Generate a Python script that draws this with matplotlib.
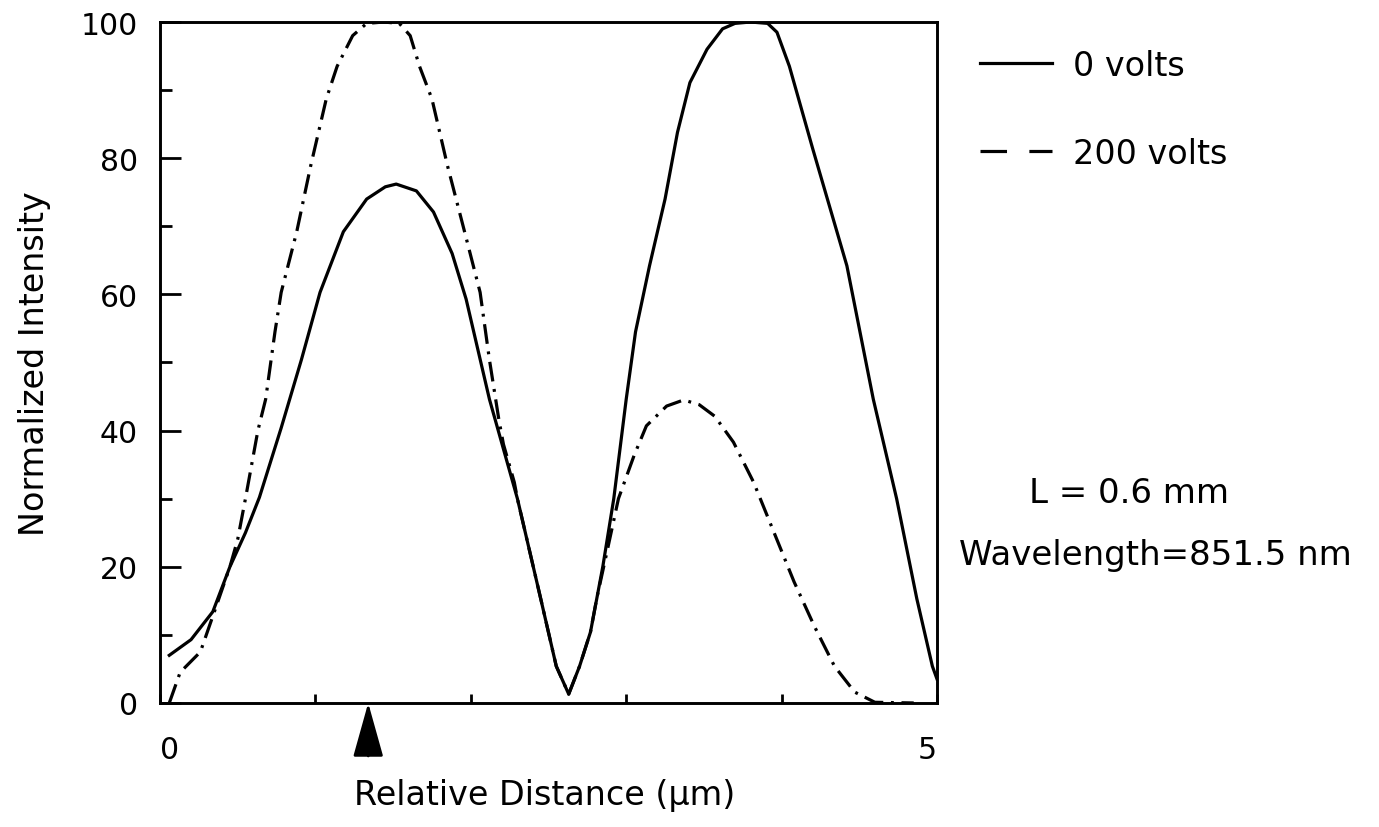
import matplotlib
matplotlib.use("Agg")
import matplotlib.pyplot as plt
from matplotlib.lines import Line2D
from matplotlib.ticker import MultipleLocator

# ---- data ----
x_0v = [0.06, 0.20, 0.34, 0.45, 0.55, 0.64, 0.78, 0.91, 1.03, 1.18, 1.33, 1.45,
        1.52, 1.65, 1.76, 1.88, 1.97, 2.12, 2.30, 2.45, 2.55, 2.63, 2.70, 2.77,
        2.85, 2.92, 3.00, 3.06, 3.15, 3.25, 3.33, 3.41, 3.52, 3.62, 3.70, 3.80,
        3.91, 3.97, 4.05, 4.20, 4.42, 4.59, 4.74, 4.87, 4.97, 5.00]
y_0v = [7.0, 9.3, 13.4, 20.0, 25.0, 30.2, 40.4, 50.4, 60.3, 69.2, 74.0, 75.8,
        76.2, 75.2, 72.1, 66.0, 59.3, 44.6, 30.0, 15.3, 5.4, 1.3, 5.4, 10.4,
        20.1, 30.0, 44.6, 54.5, 64.2, 74.0, 83.8, 91.1, 96.0, 99.0, 99.8, 100.0,
        99.8, 98.5, 93.5, 81.4, 64.2, 44.6, 30.0, 15.3, 5.4, 3.5]

x_200v = [0.06, 0.13, 0.26, 0.35, 0.45, 0.50, 0.55, 0.63, 0.68, 0.74, 0.78, 0.88,
          0.97, 1.07, 1.14, 1.24, 1.33, 1.44, 1.54, 1.61, 1.67, 1.75, 1.85, 1.96,
          2.06, 2.12, 2.18, 2.21, 2.28, 2.30, 2.45, 2.55, 2.63, 2.70, 2.77, 2.81,
          2.88, 2.95, 3.05, 3.13, 3.26, 3.37, 3.47, 3.57, 3.69, 3.82, 3.95, 4.08,
          4.21, 4.34, 4.47, 4.60, 4.85]
y_200v = [0.0, 4.5, 7.5, 13.4, 20.0, 24.0, 30.0, 40.0, 44.6, 54.5, 60.3, 69.2,
          78.9, 88.7, 93.5, 98.0, 99.8, 100.0, 99.8, 98.0, 93.5, 88.7, 78.9, 69.2,
          60.3, 50.4, 41.7, 38.0, 32.4, 30.0, 15.3, 5.4, 1.3, 5.4, 10.4, 15.3,
          22.6, 30.0, 36.3, 40.7, 43.6, 44.5, 43.8, 42.1, 38.3, 32.4, 25.1, 17.8,
          11.3, 5.4, 1.6, 0.1, 0.0]

series_labels = ["0 volts", "200 volts"]
x_tick_values = [0, 1, 2, 3, 4, 5]
x_tick_labels = ["0", "", "", "", "", "5"]
y_tick_values = [0, 20, 40, 60, 80, 100]
arrow_x = 1.34
param_lines = ["L = 0.6 mm", "Wavelength=851.5 nm"]

plt.rcParams["font.family"] = ["DejaVu Sans"]

fig = plt.figure(figsize=(13.79, 8.28), dpi=100)
ax = fig.add_axes([0.116, 0.1498, 0.5635, 0.8224])

LW = 2.3
dashdot = (0, (6.2, 2.4, 0.9, 2.4))
l0, = ax.plot(x_0v, y_0v, color="black", lw=LW, solid_joinstyle="round")
l1, = ax.plot(x_200v, y_200v, color="black", lw=LW, linestyle=dashdot)

ax.set_xlim(0, 5)
ax.set_ylim(0, 100)

for s in ax.spines.values():
    s.set_linewidth(2.1)

ax.set_xticks(x_tick_values)
ax.set_xticklabels(x_tick_labels)
xl = ax.get_xticklabels()
xl[0].set_horizontalalignment("left")
xl[-1].set_horizontalalignment("right")
ax.set_yticks(y_tick_values)
ax.yaxis.set_minor_locator(MultipleLocator(10))
ax.tick_params(axis="x", direction="in", length=6.5, width=2.0, pad=23,
               labelsize=21.5, top=False)
ax.tick_params(axis="y", which="major", direction="in", length=15, width=2.0,
               pad=16, labelsize=21.5, right=False)
ax.tick_params(axis="y", which="minor", direction="in", length=8.5, width=2.0,
               right=False)

ax.set_xlabel("Relative Distance (\u03bcm)", fontsize=24, va="center")
ax.xaxis.set_label_coords(0.4955, -0.134)
ax.set_ylabel("Normalized Intensity", fontsize=24, va="center")
ax.yaxis.set_label_coords(-0.161, 0.5)

# arrow marker under the axis
ax.annotate("", xy=(arrow_x, 0), xycoords="data",
            xytext=(0, -53), textcoords="offset pixels",
            arrowprops=dict(arrowstyle="-|>,head_length=3.4,head_width=0.95",
                            lw=2, color="black", shrinkA=0, shrinkB=0),
            annotation_clip=False)

# legend (handle for the 200 V entry drawn as in the reference key: dash - gap - dash)
h0 = Line2D([], [], color="black", lw=LW)
h1 = Line2D([], [], color="black", lw=LW, linestyle=(0, (8.3, 7.0)))
ax.legend([h0, h1], series_labels, loc="upper left",
          bbox_to_anchor=(0.7107, 0.940), bbox_transform=fig.transFigure,
          frameon=False, fontsize=24, handlelength=2.16, handletextpad=0.63,
          labelspacing=1.65, borderpad=0, borderaxespad=0)

fig.text(1129 / 1379, 1 - 494 / 828, param_lines[0], fontsize=24.5, va="center", ha="center")
fig.text(1155 / 1379, 1 - 556 / 828, param_lines[1], fontsize=24.5, va="center", ha="center")

fig.savefig("out.png", dpi=100)
